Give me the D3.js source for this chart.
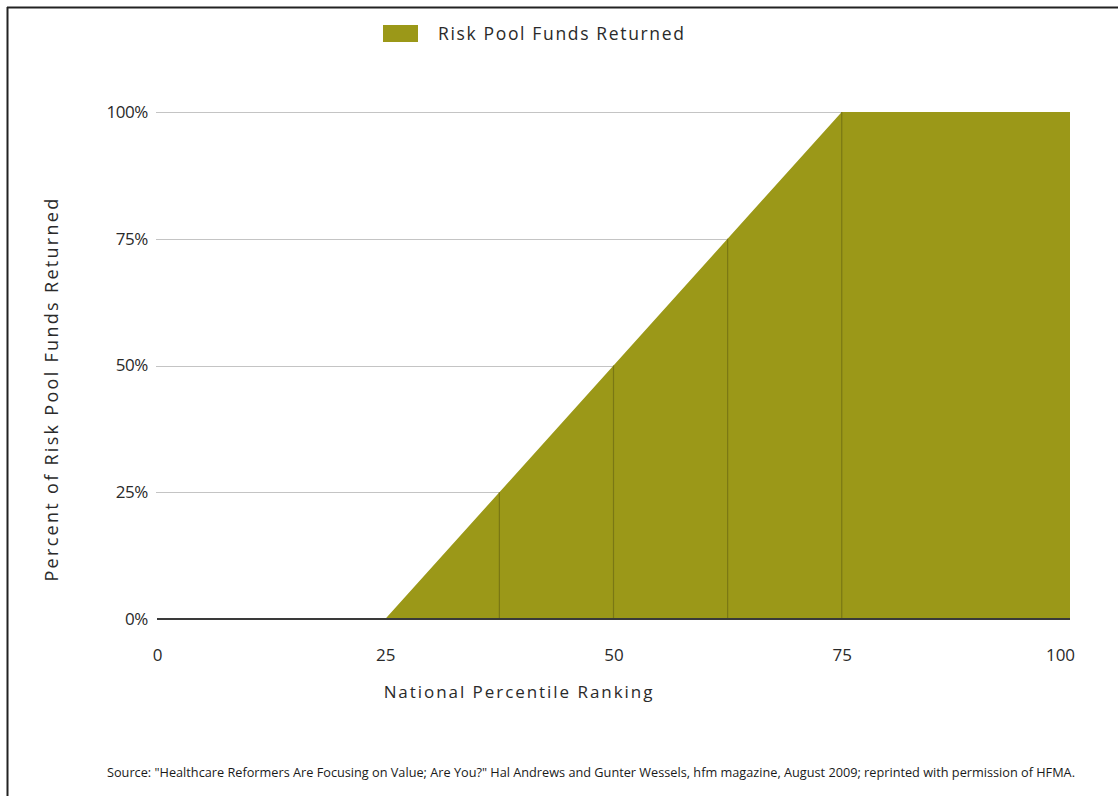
<!DOCTYPE html>
<html><head><meta charset="utf-8">
<script src="https://cdn.jsdelivr.net/npm/d3@7"></script>
<style>
html,body{margin:0;padding:0;background:#fff;}
svg{display:block;font-family:"Open Sans","Noto Sans",sans-serif;}
</style></head>
<body>
<svg id="chart" width="1118" height="796"></svg>
<script>
const rankings = [0, 25, 75, 100];
const returned = [0, 0, 100, 100];
const dividers = [37.5, 50, 62.5, 75];
const xTicks = [0, 25, 50, 75, 100];
const yTicks = [0, 25, 50, 75, 100];
const seriesName = "Risk Pool Funds Returned";
const xTitle = "National Percentile Ranking";
const yTitle = "Percent of Risk Pool Funds Returned";
const source = "Source: \"Healthcare Reformers Are Focusing on Value; Are You?\" Hal Andrews and Gunter Wessels, hfm magazine, August 2009; reprinted with permission of HFMA.";

const svg = d3.select("#chart");
const fillCol = "#9b9818";
const x = d3.scaleLinear().domain([0, 100]).range([157, 1070]);
const y = d3.scaleLinear().domain([0, 100]).range([619, 112]);

// frame lines (top, left)
svg.append("line").attr("x1", 7).attr("x2", 1118).attr("y1", 7.5).attr("y2", 7.5).attr("stroke", "#222").attr("stroke-width", 2);
svg.append("line").attr("x1", 7.5).attr("x2", 7.5).attr("y1", 7).attr("y2", 796).attr("stroke", "#222").attr("stroke-width", 2);

// gridlines
svg.append("g").selectAll("line").data(yTicks.filter(d => d > 0)).join("line")
  .attr("x1", 156).attr("x2", x(100))
  .attr("y1", d => Math.round(y(d)) + 0.5).attr("y2", d => Math.round(y(d)) + 0.5)
  .attr("stroke", "#c4c4c4").attr("stroke-width", 1.2);

// area
const pts = rankings.map((r, i) => ({r, v: returned[i]}));
const area = d3.area().x(d => x(d.r)).y0(y(0)).y1(d => y(d.v));
svg.append("path").datum(pts).attr("d", area).attr("fill", fillCol);

function valAt(r) {
  for (let i = 1; i < rankings.length; i++) {
    if (r <= rankings[i]) {
      const t = (r - rankings[i-1]) / (rankings[i] - rankings[i-1]);
      return returned[i-1] + t * (returned[i] - returned[i-1]);
    }
  }
  return returned[returned.length - 1];
}
svg.append("g").selectAll("line").data(dividers).join("line")
  .attr("x1", d => x(d)).attr("x2", d => x(d))
  .attr("y1", d => y(valAt(d))).attr("y2", y(0))
  .attr("stroke", "#7a7714").attr("stroke-width", 1.2);

// baseline
svg.append("line").attr("x1", x(0)).attr("x2", x(100)).attr("y1", y(0)).attr("y2", y(0))
  .attr("stroke", "#3a3a3a").attr("stroke-width", 2.2);

// y tick labels
const yAxis = d3.axisLeft(y).tickValues(yTicks).tickFormat(d => d + "%").tickSize(0).tickPadding(0);
const gy = svg.append("g").attr("transform", "translate(148,0)").call(yAxis);
gy.select(".domain").remove();
gy.selectAll("text").attr("font-size", 17).attr("fill", "#2a2a2a").attr("font-family", "Open Sans, sans-serif")
  .attr("letter-spacing", -0.4).attr("dy", "0.32em");

// x tick labels
const xAxis = d3.axisBottom(x).tickValues(xTicks).tickSize(0).tickPadding(0);
const gx = svg.append("g").attr("transform", "translate(0,649)").call(xAxis);
gx.select(".domain").remove();
gx.selectAll("text").attr("font-size", 17).attr("fill", "#2a2a2a").attr("font-family", "Open Sans, sans-serif")
  .attr("dx", d => d === 100 ? -10 : 0);

// axis titles
svg.append("text").attr("x", 519).attr("y", 698).attr("text-anchor", "middle")
  .attr("font-size", 17).attr("letter-spacing", 1.95).attr("fill", "#2a2a2a").text(xTitle);
svg.append("text").attr("transform", "translate(58,389) rotate(-90)").attr("text-anchor", "middle")
  .attr("font-size", 18).attr("letter-spacing", 2.3).attr("fill", "#2a2a2a").text(yTitle);

// legend
svg.append("rect").attr("x", 383).attr("y", 25).attr("width", 35).attr("height", 17).attr("fill", fillCol);
svg.append("text").attr("x", 438).attr("y", 40).attr("font-size", 17.5).attr("letter-spacing", 1.65)
  .attr("fill", "#2a2a2a").text(seriesName);

// source
svg.append("text").attr("x", 107).attr("y", 777).attr("font-size", 12)
  .attr("font-family", "Liberation Sans Narrow, Open Sans, sans-serif")
  .attr("textLength", 968).attr("lengthAdjust", "spacingAndGlyphs")
  .attr("fill", "#1a1a1a").text(source);
</script>
</body></html>
